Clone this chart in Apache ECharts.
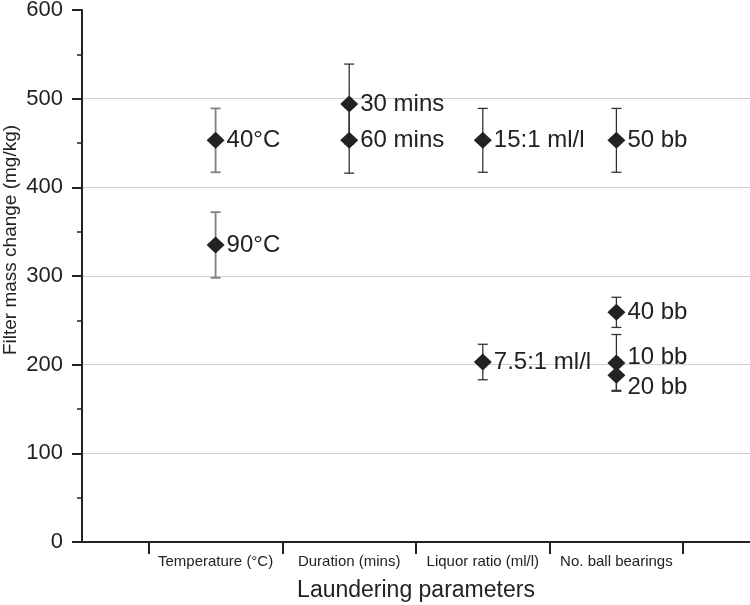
<!DOCTYPE html>
<html>
<head>
<meta charset="utf-8">
<script src="https://cdn.jsdelivr.net/npm/echarts@6/dist/echarts.min.js"></script>
<style>
  html, body { margin: 0; padding: 0; background: #fff; }
  #chart { width: 750px; height: 605px; }
</style>
</head>
<body>
<div id="chart"></div>
<script>
const categories = ["Temperature (°C)", "Duration (mins)", "Liquor ratio (ml/l)", "No. ball bearings"];
const categoryPos = [1, 2, 3, 4];
const groupTicks = [0.5, 1.5, 2.5, 3.5, 4.5];

const pointLabels = ["40°C", "90°C", "30 mins", "60 mins", "15:1 ml/l", "7.5:1 ml/l", "50 bb", "40 bb", "10 bb", "20 bb"];
const pointGroup = [1, 1, 2, 2, 3, 3, 4, 4, 4, 4];
const pointMean = [453, 335, 494, 453, 453, 203, 453, 259, 202, 188];
const pointSd = [36, 37, 45, 37, 36, 20, 36, 17, 32, 17];

const yTicks = [0, 100, 200, 300, 400, 500, 600];

const FONT = "'Liberation Sans', Arial, sans-serif";
const INK = "#222";

// a few labels are nudged in the original so they don't collide
const labelNudge = { "10 bb": [0, -6], "20 bb": [0, 12] };

const chart = echarts.init(document.getElementById("chart"));

const points = pointLabels.map((name, i) => {
  const item = { name: name, value: [pointGroup[i], pointMean[i]] };
  if (labelNudge[name]) {
    item.label = { offset: labelNudge[name] };
  }
  return item;
});

const errors = pointLabels.map((name, i) => [pointGroup[i], pointMean[i] - pointSd[i], pointMean[i] + pointSd[i]]);

chart.setOption({
  animation: false,
  backgroundColor: "#fff",
  grid: { left: 82, right: 0, top: 10, bottom: 63, outerBoundsMode: "none", containLabel: false },
  xAxis: {
    type: "value",
    min: 0,
    max: 5,
    interval: 0.5,
    name: "Laundering parameters",
    nameLocation: "middle",
    nameGap: 37,
    nameTextStyle: { fontFamily: FONT, fontSize: 23, color: INK },
    axisLine: { lineStyle: { color: INK, width: 2 } },
    axisTick: { show: true, customValues: groupTicks, length: 12, lineStyle: { color: INK, width: 2 } },
    axisLabel: {
      customValues: categoryPos,
      formatter: (v) => categories[Math.round(v) - 1] || "",
      fontFamily: FONT,
      fontSize: 15,
      color: INK,
      margin: 12,
    },
    splitLine: { show: false },
  },
  yAxis: {
    type: "value",
    min: yTicks[0],
    max: yTicks[yTicks.length - 1],
    interval: 100,
    axisLine: { show: true, lineStyle: { color: INK, width: 2 } },
    axisTick: { show: true, length: 10, lineStyle: { color: INK, width: 2 } },
    minorTick: { show: true, splitNumber: 2, length: 5, lineStyle: { color: INK, width: 1.5 } },
    axisLabel: { fontFamily: FONT, fontSize: 22, color: INK, margin: 19 },
    splitLine: { show: true, showMinLine: false, showMaxLine: false, lineStyle: { color: "#cfcfcf", width: 1 } },
  },
  graphic: [
    {
      type: "text",
      rotation: Math.PI / 2,
      x: 1,
      y: 240,
      style: {
        text: "Filter mass change (mg/kg)",
        font: "19px " + FONT,
        fill: INK,
        align: "center",
        verticalAlign: "top",
      },
    },
  ],
  series: [
    {
      type: "custom",
      name: "sd",
      z: 2,
      data: errors,
      renderItem: (params, api) => {
        const x = api.value(0);
        const lo = api.coord([x, api.value(1)]);
        const hi = api.coord([x, api.value(2)]);
        const temp = x === 1;
        const cap = 5;
        const style = { stroke: temp ? "#808080" : "#333", lineWidth: temp ? 1.8 : 1.3 };
        return {
          type: "group",
          children: [
            { type: "line", shape: { x1: lo[0], y1: lo[1], x2: hi[0], y2: hi[1] }, style: style },
            { type: "line", shape: { x1: lo[0] - cap, y1: lo[1], x2: lo[0] + cap, y2: lo[1] }, style: style },
            { type: "line", shape: { x1: hi[0] - cap, y1: hi[1], x2: hi[0] + cap, y2: hi[1] }, style: style },
          ],
        };
      },
    },
    {
      type: "scatter",
      name: "mean",
      z: 3,
      symbol: "diamond",
      symbolSize: [18, 17],
      itemStyle: { color: INK, opacity: 1 },
      label: {
        show: true,
        position: "right",
        distance: 2,
        formatter: (p) => p.name,
        fontFamily: FONT,
        fontSize: 24,
        color: INK,
      },
      data: points,
    },
  ],
});
</script>
</body>
</html>
